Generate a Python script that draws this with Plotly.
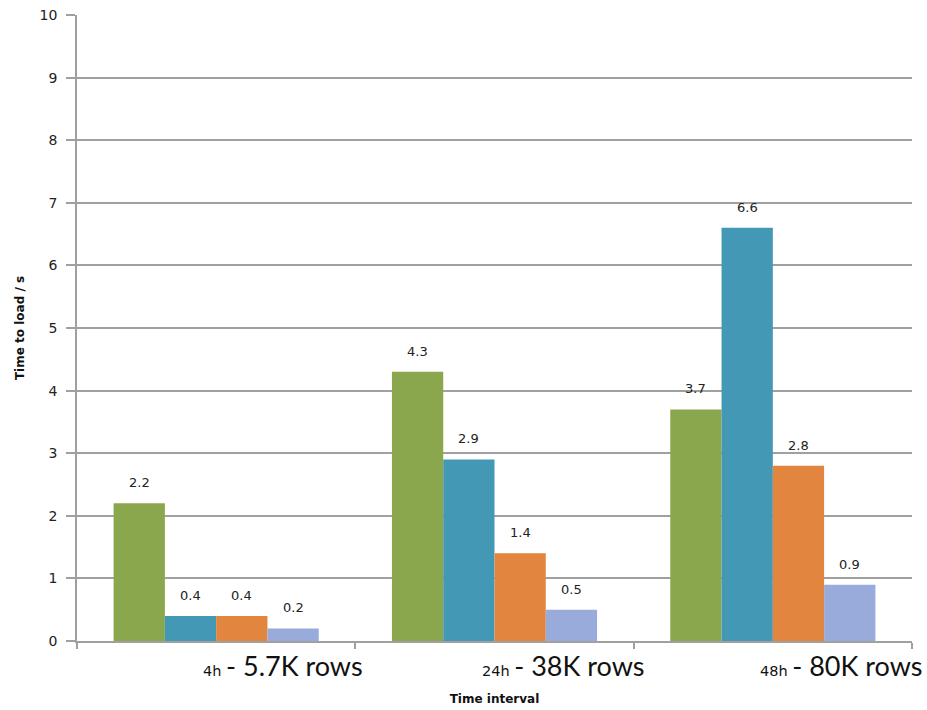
import plotly.graph_objects as go

# Load-time measurements per time window
intervals = ["4h", "24h", "48h"]
row_counts = ["5.7K rows", "38K rows", "80K rows"]

series_a = [2.2, 4.3, 3.7]
series_b = [0.4, 2.9, 6.6]
series_c = [0.4, 1.4, 2.8]
series_d = [0.2, 0.5, 0.9]

series_values = [series_a, series_b, series_c, series_d]
series_colors = ["#8BA74E", "#4399B5", "#E2853E", "#98ABDA"]

y_ticks = list(range(0, 11))

BARGAP = 0.263
GRID = "#A0A0A0"
TICK_FONT = "DejaVu Sans"

fig = go.Figure()
for vals, color in zip(series_values, series_colors):
    fig.add_trace(go.Bar(
        x=intervals,
        y=vals,
        marker=dict(color=color, line=dict(width=0)),
        showlegend=False,
    ))

# Value labels above each bar, placed at the bar centres of the group
n = len(series_values)
group_w = 1 - BARGAP
bar_w = group_w / n
for i, vals in enumerate(series_values):
    for j, v in enumerate(vals):
        fig.add_annotation(
            x=j - group_w / 2 + bar_w * (i + 0.5), y=v,
            xref="x", yref="y",
            text=f"{v:.1f}", showarrow=False,
            yanchor="bottom", yshift=11,
            font=dict(family=TICK_FONT, size=13, color="#222222"),
        )

# Category captions: short interval name plus row count
for j, (iv, rc) in enumerate(zip(intervals, row_counts)):
    fig.add_annotation(
        x=j, y=0, xref="x", yref="paper",
        xanchor="left", yanchor="top", xshift=-15, yshift=-6,
        showarrow=False,
        text=(f"<span style='font-family:DejaVu Sans;font-size:14.5px'>{iv} </span>"
              f"<span style='font-family:Lato;font-size:27px'>- {rc}</span>"),
        font=dict(color="#111111"),
    )

fig.update_layout(
    width=927, height=710,
    margin=dict(l=77, r=15, t=15, b=69, autoexpand=False),
    paper_bgcolor="white", plot_bgcolor="white",
    barmode="group", bargap=BARGAP, bargroupgap=0,
    font=dict(family=TICK_FONT, color="#222222"),
)

fig.update_xaxes(
    automargin=False,
    range=[-0.5, len(intervals) - 0.5],
    showticklabels=False,
    ticks="outside", tickson="boundaries", ticklen=6, tickcolor=GRID, tickwidth=1.5,
    showline=True, linecolor=GRID, linewidth=1.5,
    showgrid=False,
    title=dict(text="<b>Time interval</b>", standoff=53,
               font=dict(family=TICK_FONT, size=12, color="#111111")),
)

fig.update_yaxes(
    automargin=False,
    range=[0, 10], tickvals=y_ticks,
    ticks="outside", ticklen=9, tickcolor=GRID, tickwidth=1.5,
    showline=True, linecolor=GRID, linewidth=1.5,
    showgrid=True, gridcolor=GRID, gridwidth=1.5,
    zeroline=False,
    tickfont=dict(family=TICK_FONT, size=14, color="#222222"),
    ticklabelstandoff=6,
    title=dict(text="<b>Time to load / s</b>", standoff=12,
               font=dict(family=TICK_FONT, size=12, color="#111111")),
)

fig.write_html("out.html")
